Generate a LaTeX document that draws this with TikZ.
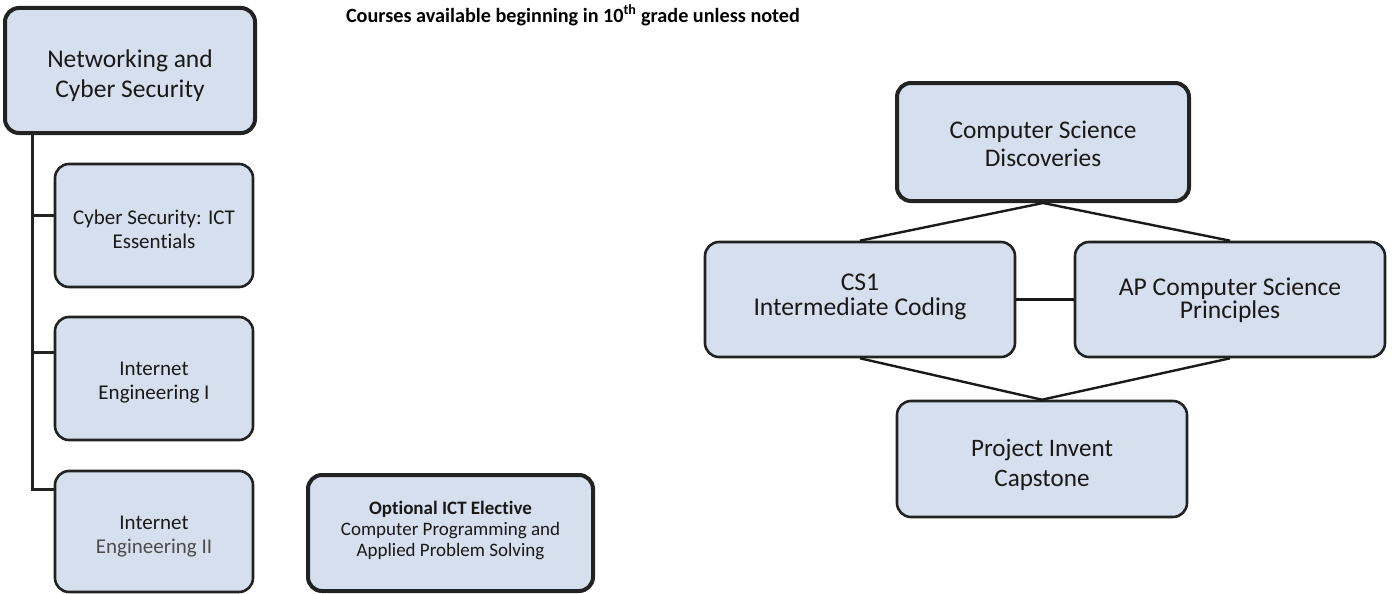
\documentclass[tikz,border=0pt]{standalone}
\usepackage{fontspec}
\setmainfont{Carlito}[Ligatures=NoCommon]
\begin{document}
\begin{tikzpicture}[x=1pt,y=-1pt,
  box/.style={draw=boxline,fill=boxfill,rounded corners=14pt,line width=2.6pt,inner sep=0pt},
  thickbox/.style={box,line width=4pt},
  lbl/.style={align=center,inner sep=0pt,text=black!90},
  conn/.style={line width=2.4pt,draw=black!90},
  trunk/.style={line width=3pt,draw=boxline}]
\definecolor{boxfill}{RGB}{213,223,238}
\definecolor{boxline}{RGB}{34,34,34}
\useasboundingbox (0,0) rectangle (1392,594);
\node[font=\bfseries\fontsize{20.2}{24}\selectfont] (title) at (573,15) {Courses available beginning in 10\textsuperscript{th} grade unless noted};
% left column
\node[thickbox,minimum width=250pt,minimum height=125pt] (net) at (130,70.5) {};
\node[lbl,font=\fontsize{25.5}{30}\selectfont] (netT) at (130,75.5) {Networking and\\Cyber Security};
\node[box,minimum width=198pt,minimum height=123pt] (cyber) at (154,225.5) {};
\node[lbl,font=\fontsize{21}{24}\selectfont] (cyberT) at (154,229.5) {Cyber Security: ICT\\Essentials};
\node[box,minimum width=198pt,minimum height=123pt] (ie1) at (154,378.5) {};
\node[lbl,font=\fontsize{21}{24}\selectfont] (ie1T) at (154,382.5) {Internet\\Engineering I};
\node[box,minimum width=198pt,minimum height=121pt] (ie2) at (154,531.5) {};
\node[lbl,font=\fontsize{21}{24}\selectfont] (ie2T) at (154,536.5) {Internet\\\textcolor{black!70}{Engineering II}};
\node[thickbox,minimum width=285pt,minimum height=116pt] (opt) at (450.5,533) {};
\node[lbl,font=\fontsize{19}{21}\selectfont] (optT) at (450.5,530.5) {\textbf{Optional ICT Elective}\\Computer Programming and\\Applied Problem Solving};
\coordinate (b1) at (32,215);
\coordinate (b2) at (32,352);
\coordinate (b3) at (32,489);
\draw[trunk] (b1 |- net.south) -- (b3) -- (b3 -| ie2.west);
\draw[trunk] (b1) -- (b1 -| cyber.west);
\draw[trunk] (b2) -- (b2 -| ie1.west);
% right diagram
\node[thickbox,minimum width=292pt,minimum height=118pt] (csd) at (1043,142) {};
\node[lbl,font=\fontsize{25.4}{28}\selectfont] (csdT) at (1043,143.5) {Computer Science\\Discoveries};
\node[box,minimum width=310pt,minimum height=115pt] (cs1) at (860,299.5) {};
\node[lbl,font=\fontsize{25.6}{25}\selectfont] (cs1T) at (860,297) {CS1\\Intermediate Coding};
\node[box,minimum width=310pt,minimum height=115pt] (ap) at (1230,299.5) {};
\node[lbl,font=\fontsize{25.6}{21}\selectfont] (apT) at (1230,300) {AP Computer Science\\Principles};
\node[box,minimum width=290pt,minimum height=116pt] (pi) at (1042,459) {};
\node[lbl,font=\fontsize{25.1}{30}\selectfont] (piT) at (1042,464.5) {Project Invent\\Capstone};
\draw[conn] (csd.south) -- (cs1.north);
\draw[conn] (csd.south) -- (ap.north);
\draw[conn] (cs1.east) -- (ap.west);
\draw[conn] (cs1.south) -- (pi.north);
\draw[conn] (ap.south) -- (pi.north);
\end{tikzpicture}
\end{document}
